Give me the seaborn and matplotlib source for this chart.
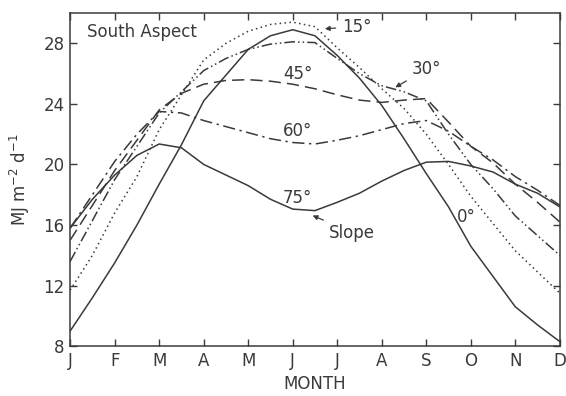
import numpy as np
import pandas as pd
import seaborn as sns
import matplotlib.pyplot as plt

# half-month positions, J=0 ... D=11
months = ["J", "F", "M", "A", "M", "J", "J", "A", "S", "O", "N", "D"]
pos = np.arange(0, 11.5, 0.5)

# daily radiation (MJ m-2 d-1)
slope_0 = [9.0, 11.2, 13.5, 16.0, 18.7, 21.3, 24.2, 25.9, 27.6, 28.5, 28.9, 28.5,
           27.2, 25.7, 23.9, 21.7, 19.4, 17.2, 14.6, 12.6, 10.6, 9.4, 8.3]
slope_15 = [11.7, 14.0, 16.8, 19.2, 22.3, 24.6, 26.9, 28.0, 28.8, 29.25, 29.4, 29.1,
            27.7, 26.4, 25.0, 23.7, 22.0, 20.0, 17.9, 16.1, 14.3, 12.9, 11.5]
slope_30 = [13.6, 16.3, 19.0, 21.2, 23.4, 24.8, 26.2, 27.0, 27.6, 27.95, 28.1, 28.05,
            27.0, 26.0, 25.2, 24.8, 24.2, 22.0, 20.0, 18.4, 16.6, 15.3, 14.0]
slope_45 = [15.0, 17.3, 19.6, 21.6, 23.6, 24.7, 25.3, 25.55, 25.6, 25.5, 25.3, 25.0,
            24.6, 24.25, 24.1, 24.25, 24.35, 22.8, 21.2, 20.1, 18.7, 17.5, 16.2]
slope_60 = [15.8, 18.0, 20.2, 22.0, 23.5, 23.4, 22.9, 22.5, 22.1, 21.7, 21.45, 21.35,
            21.6, 21.9, 22.3, 22.7, 22.9, 22.2, 21.2, 20.3, 19.2, 18.3, 17.3]
slope_75 = [15.8, 17.7, 19.3, 20.6, 21.35, 21.1, 20.0, 19.3, 18.6, 17.7, 17.05, 16.95,
            17.5, 18.1, 18.9, 19.6, 20.15, 20.2, 19.9, 19.5, 18.7, 18.1, 17.2]

curves = {"0": slope_0, "15": slope_15, "30": slope_30,
          "45": slope_45, "60": slope_60, "75": slope_75}
styles = {"0": "", "15": (1, 2.2), "30": (7, 2, 1, 2, 1, 2),
          "45": (8, 4), "60": (8, 3, 1.5, 3), "75": ""}

df = pd.concat([pd.DataFrame({"pos": pos, "val": v, "slope": k}) for k, v in curves.items()])

sns.set_style("ticks")
plt.rcParams["font.family"] = ["DejaVu Sans"]
ink = "#3a3a3a"

fig = plt.figure(figsize=(5.66, 3.96), dpi=100)
ax = fig.add_axes([0.124, 0.126, 0.865, 0.841])

sns.lineplot(data=df, x="pos", y="val", style="slope", dashes=styles,
             color=ink, linewidth=1.1, legend=False, ax=ax)

ax.set_xlim(0, 11)
ax.set_ylim(8, 30)
ax.set_xticks(range(12))
ax.set_xticklabels(months)
ax.set_yticks([8, 12, 16, 20, 24, 28])
ax.tick_params(direction="in", length=5, width=1, colors=ink, labelsize=12,
               top=True, right=True, pad=4)
for s in ax.spines.values():
    s.set_color(ink)
    s.set_linewidth(1.1)

ax.set_xlabel("MONTH", fontsize=12, color=ink, labelpad=4)
ax.set_ylabel("MJ m$^{-2}$ d$^{-1}$", fontsize=12, color=ink, labelpad=8)

txt = dict(fontsize=12, color=ink)
arrow = dict(arrowstyle="-|>", color=ink, lw=0.9, mutation_scale=7)
ax.text(0.38, 28.75, "South Aspect", va="center", ha="left", **txt)
ax.text(4.78, 26.0, "45°", ha="left", va="center", **txt)
ax.text(4.78, 22.2, "60°", ha="left", va="center", **txt)
ax.text(4.78, 17.8, "75°", ha="left", va="center", **txt)
ax.text(8.9, 16.5, "0°", ha="center", va="center", **txt)
ax.annotate("15°", xy=(5.66, 28.95), xytext=(6.1, 29.1), ha="left", va="center",
            arrowprops=arrow, **txt)
ax.annotate("30°", xy=(7.25, 25.0), xytext=(7.68, 26.3), ha="left", va="center",
            arrowprops=arrow, **txt)
ax.annotate("Slope", xy=(5.39, 16.7), xytext=(5.82, 15.5), ha="left", va="center",
            arrowprops=arrow, **txt)

fig.savefig("out.png", dpi=100)
